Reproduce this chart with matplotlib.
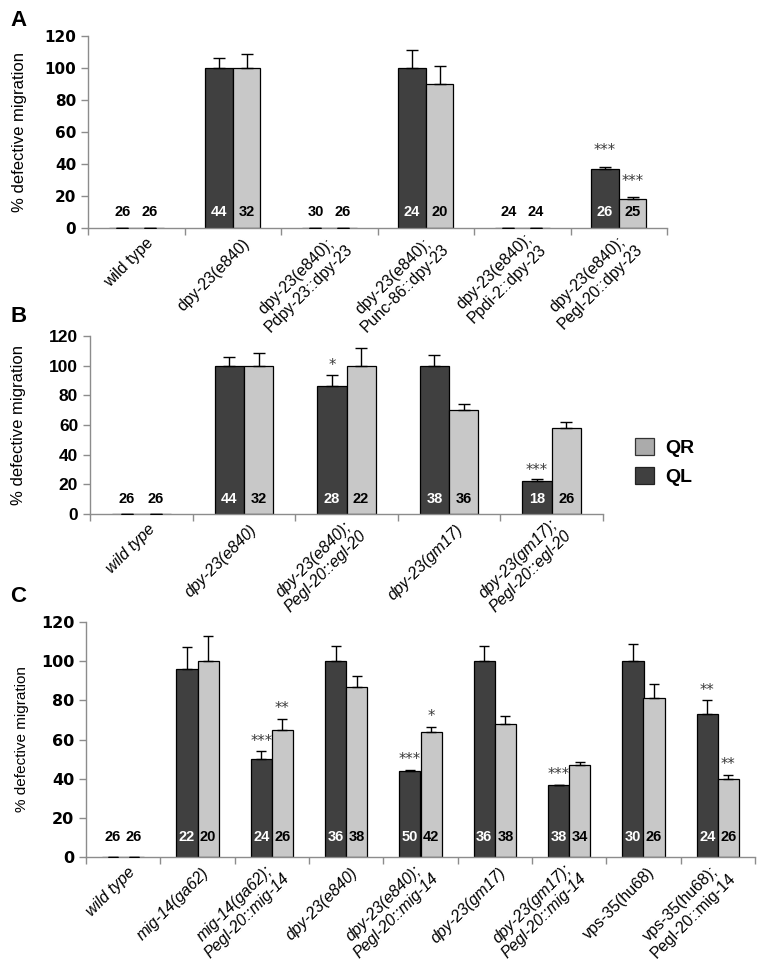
import numpy as np
import matplotlib
matplotlib.use("Agg")
import matplotlib.pyplot as plt
from matplotlib.patches import Patch
import matplotlib.transforms as mtransforms

plt.rcParams['font.family'] = ['Liberation Sans', 'DejaVu Sans']

# ---------------- data ----------------
A_labels = ["wild type", "dpy-23(e840)", "dpy-23(e840);\nPdpy-23::dpy-23",
            "dpy-23(e840);\nPunc-86::dpy-23", "dpy-23(e840);\nPpdi-2::dpy-23",
            "dpy-23(e840);\nPegl-20::dpy-23"]
A_QL = [0, 100, 0, 100, 0, 37]
A_QR = [0, 100, 0, 90, 0, 18]
A_QL_err = [0, 6, 0, 11, 0, 1.3]
A_QR_err = [0, 9, 0, 11, 0, 1.3]
A_QL_n = [26, 44, 30, 24, 24, 26]
A_QR_n = [26, 32, 26, 20, 24, 25]
A_QL_sig = ["", "", "", "", "", "***"]
A_QR_sig = ["", "", "", "", "", "***"]
A_italic = [False] * 6

B_labels = ["wild type", "dpy-23(e840)", "dpy-23(e840);\nPegl-20::egl-20",
            "dpy-23(gm17)", "dpy-23(gm17);\nPegl-20::egl-20"]
B_QL = [0, 100, 86, 100, 22.5]
B_QR = [0, 100, 100, 70, 58]
B_QL_err = [0, 6, 8, 7, 1]
B_QR_err = [0, 8.5, 12, 4, 4]
B_QL_n = [26, 44, 28, 38, 18]
B_QR_n = [26, 32, 22, 36, 26]
B_QL_sig = ["", "", "*", "", "***"]
B_QR_sig = ["", "", "", "", ""]
B_italic = [True] * 5

C_labels = ["wild type", "mig-14(ga62)", "mig-14(ga62);\nPegl-20::mig-14",
            "dpy-23(e840)", "dpy-23(e840);\nPegl-20::mig-14", "dpy-23(gm17)",
            "dpy-23(gm17);\nPegl-20::mig-14", "vps-35(hu68)",
            "vps-35(hu68);\nPegl-20::mig-14"]
C_QL = [0, 96, 50, 100, 44, 100, 37, 100, 73]
C_QR = [0, 100, 65, 87, 64, 68, 47, 81, 40]
C_QL_err = [0, 11, 4, 7.5, 0.6, 7.5, 0, 9, 7]
C_QR_err = [0, 13, 5.5, 5.5, 2.5, 4, 1.5, 7.5, 2]
C_QL_n = [26, 22, 24, 36, 50, 36, 38, 30, 24]
C_QR_n = [26, 20, 26, 38, 42, 38, 34, 26, 26]
C_QL_sig = ["", "", "***", "", "***", "", "***", "", "**"]
C_QR_sig = ["", "", "**", "", "*", "", "", "", "**"]
C_italic = [True] * 7 + [False, False]

y_ticks = [0, 20, 40, 60, 80, 100, 120]
legend_labels = ["QR", "QL"]

# ---------------- style ----------------
DARK = "#404040"
LIGHT = "#c8c8c8"
AXCOL = "#8c8c8c"

fig = plt.figure(figsize=(7.64, 9.64), dpi=100)


def panel(rect, letter, letter_xy, labels, ql, qr, qle, qre, qln, qrn, qls, qrs,
          italic, tickfont, tickfs, ylabfs, xlabfs, capsize, star_gap, lab_dx, lab_dy,
          ylab_x, nfs):
    ax = fig.add_axes(rect)
    n = len(labels)
    x = np.arange(n)
    w = 0.285
    ax.bar(x - w / 2, ql, w, color=DARK, edgecolor="black", linewidth=0.9, zorder=2)
    ax.bar(x + w / 2, qr, w, color=LIGHT, edgecolor="black", linewidth=0.9, zorder=2)
    ax.errorbar(x - w / 2, ql, yerr=[np.zeros(n), qle], fmt="none", ecolor="black",
                elinewidth=1.0, capsize=capsize, capthick=1.0, zorder=3)
    ax.errorbar(x + w / 2, qr, yerr=[np.zeros(n), qre], fmt="none", ecolor="black",
                elinewidth=1.0, capsize=capsize, capthick=1.0, zorder=3)
    ax.set_xlim(-0.5, n - 0.5)
    ax.set_ylim(0, 120)
    ax.set_yticks(y_ticks)
    ax.set_yticklabels([str(t) for t in y_ticks], fontfamily=tickfont,
                       fontweight="bold", fontsize=tickfs)
    ax.set_xticks(np.arange(n + 1) - 0.5)
    ax.set_xticklabels([])
    ax.tick_params(axis="both", color=AXCOL, length=5, width=1)
    for s in ["top", "right"]:
        ax.spines[s].set_visible(False)
    for s in ["left", "bottom"]:
        ax.spines[s].set_color(AXCOL)
        ax.spines[s].set_linewidth(1)
    ax.set_ylabel("% defective migration", fontsize=ylabfs)
    ax.yaxis.set_label_coords(ylab_x, 0.5)

    # n numbers
    for i in range(n):
        cql = "white" if ql[i] > 15 else "black"
        cqr = "black"
        ax.text(x[i] - w / 2, 10, str(qln[i]), ha="center", va="center",
                fontsize=nfs, fontweight="bold", color=cql, zorder=4)
        ax.text(x[i] + w / 2, 10, str(qrn[i]), ha="center", va="center",
                fontsize=nfs, fontweight="bold", color=cqr, zorder=4)
        off = mtransforms.ScaledTranslation(0, star_gap / 100, fig.dpi_scale_trans)
        if qls[i]:
            ax.text(x[i] - w / 2, ql[i] + qle[i], qls[i], ha="center", va="center",
                    fontsize=10.5, color="#3a3a3a", family="DejaVu Sans",
                    transform=ax.transData + off)
        if qrs[i]:
            ax.text(x[i] + w / 2, qr[i] + qre[i], qrs[i], ha="center", va="center",
                    fontsize=10.5, color="#3a3a3a", family="DejaVu Sans",
                    transform=ax.transData + off)

    # category labels
    trans = mtransforms.blended_transform_factory(ax.transData, ax.transAxes)
    loff = mtransforms.ScaledTranslation(lab_dx / 100, -lab_dy / 100, fig.dpi_scale_trans)
    for i in range(n):
        ax.text(x[i], 0, labels[i], rotation=45, rotation_mode="anchor",
                ha="right", va="center", multialignment="center",
                fontsize=xlabfs, style="italic" if italic[i] else "normal",
                transform=trans + loff)

    fig.text(letter_xy[0] / 764, 1 - letter_xy[1] / 964, letter, fontsize=16,
             fontweight="bold", ha="left", va="center")
    return ax


# Panel A
panel([88 / 764, 1 - 228 / 964, (667 - 88) / 764, (228 - 36) / 964], "A", (10, 20),
      A_labels, A_QL, A_QR, A_QL_err, A_QR_err, A_QL_n, A_QR_n, A_QL_sig, A_QR_sig,
      A_italic, "DejaVu Sans", 11, 12, 11.5, 4.5, 16, 15, 13, -0.105, 10.5)

# Panel B
panel([90 / 764, 1 - 514 / 964, (603 - 90) / 764, (514 - 336) / 964], "B", (10, 316),
      B_labels, B_QL, B_QR, B_QL_err, B_QR_err, B_QL_n, B_QR_n, B_QL_sig, B_QR_sig,
      B_italic, "Liberation Sans", 12.5, 12, 11.5, 4.5, 9, 11, 13, -0.125, 10.5)

# Panel C
panel([86 / 764, 1 - 857 / 964, (755 - 86) / 764, (857 - 622) / 964], "C", (10, 597),
      C_labels, C_QL, C_QR, C_QL_err, C_QR_err, C_QL_n, C_QR_n, C_QL_sig, C_QR_sig,
      C_italic, "DejaVu Sans", 11.5, 11, 11.5, 3.5, 10, 9, 13, -0.085, 10.5)

# legend
handles = [Patch(facecolor="#ababab", edgecolor="#333333", linewidth=0.9),
           Patch(facecolor=DARK, edgecolor="#222222", linewidth=0.9)]
fig.legend(handles, legend_labels, loc="upper left",
           bbox_to_anchor=(635 / 764, 1 - 438 / 964), frameon=False,
           prop={"weight": "bold", "size": 14}, handlelength=1.0, handleheight=1.0,
           handletextpad=0.55, labelspacing=0.5, borderpad=0, borderaxespad=0)

fig.savefig("out.png", dpi=100)
